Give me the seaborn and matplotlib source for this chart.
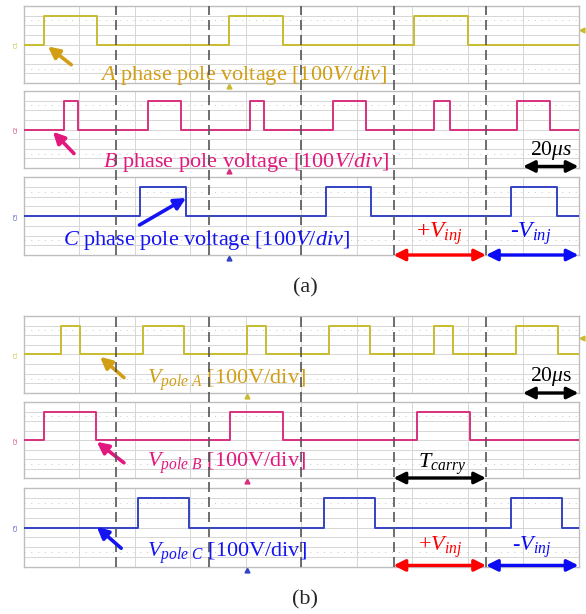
import numpy as np
import pandas as pd
import seaborn as sns
import matplotlib.pyplot as plt

sns.set_theme(style='white')
plt.rcParams['font.family'] = ['Liberation Serif', 'DejaVu Serif']
plt.rcParams['mathtext.fontset'] = 'custom'
plt.rcParams['mathtext.rm'] = 'Liberation Serif'
plt.rcParams['mathtext.it'] = 'Liberation Serif:italic'

# data: time in scope divisions (20us/div, 10 div on screen), rise/fall edges
carrier_period = 5 / 3      # 33.3us
pulse_high = 3.0            # divisions above ground

a_phase_a = [0.37, 1.33, 3.71, 4.67, 7.04, 8.01]
a_phase_b = [0.73, 0.99, 2.24, 2.83, 4.08, 4.33, 5.57, 6.17, 7.40, 7.69, 8.90, 9.49]
a_phase_c = [2.10, 2.93, 5.45, 6.27, 8.78, 9.61]
b_phase_a = [0.67, 1.01, 2.15, 2.90, 4.02, 4.37, 5.50, 6.25, 7.40, 7.73, 8.87, 9.63]
b_phase_b = [0.37, 1.31, 3.72, 4.68, 7.09, 8.04]
b_phase_c = [2.06, 2.99, 5.42, 6.34, 8.79, 9.71]

trigger_a = 3.70
trigger_b = 4.02
trig_level_a = 1.5
trig_level_b = 1.7

channel_names = ['C1', 'C2', 'C3']
trace_colors = ['#C8BC2E', '#D8307E', '#3442C4']
text_colors = ['#D29E14', '#E2187E', '#1414F2']

labels_a = [r'$A$ phase pole voltage [100$V/div$]',
            r'$B$ phase pole voltage [100$V/div$]',
            r'$C$ phase pole voltage [100$V/div$]']
labels_b = [r'$V_{pole\ A}$ [100V/div]',
            r'$V_{pole\ B}$ [100V/div]',
            r'$V_{pole\ C}$ [100V/div]']


def step_frame(edges):
    t = [0.0] + list(edges) + [10.0]
    v = [0.0] + [pulse_high, 0.0] * (len(edges) // 2) + [0.0]
    return pd.DataFrame({'t': t, 'v': v})


W, H = 586, 614
fig = plt.figure(figsize=(W / 100, H / 100), dpi=100)


def px_axes(x0, y0, x1, y1):
    return fig.add_axes([x0 / W, 1 - y1 / H, (x1 - x0) / W, (y1 - y0) / H])


def scope_panel(ax, edges, k, trig, trig_level, show_level):
    ax.set_facecolor('white')
    for xv in range(1, 10):
        ax.axvline(xv, color='#D6D6D6', lw=0.7, zorder=0)
    for yv in range(-3, 4):
        ax.axhline(yv, color='#D6D6D6', lw=0.7, zorder=0)
    for yv in [-2.5, 2.5]:
        ax.axhline(yv, color='#C8C8C8', lw=0.7, ls=(0, (1, 6)), zorder=0)
    sns.lineplot(data=step_frame(edges), x='t', y='v', ax=ax, color=trace_colors[k],
                 lw=1.4, drawstyle='steps-post', sort=False, estimator=None,
                 legend=False, zorder=3)
    ax.set_xlim(0, 10)
    ax.set_ylim(-4, 4)
    ax.set_xticks([])
    ax.set_yticks([])
    ax.set_xlabel('')
    ax.set_ylabel('')
    for s in ax.spines.values():
        s.set_color('#BEBEBE')
        s.set_linewidth(1.0)
    ax.text(-0.13, 0, channel_names[k], color=trace_colors[k], fontsize=4,
            rotation=90, ha='center', va='center', family='DejaVu Sans')
    ax.plot([trig], [-4.35], marker='^', ms=3.5, color=trace_colors[k], clip_on=False)
    if show_level:
        ax.plot([10.07], [trig_level], marker='<', ms=3.5, color=trace_colors[k], clip_on=False)


def dbl_arrow(ax, x0, x1, y, color):
    ax.annotate('', xy=(x0, y), xytext=(x1, y), xycoords=('data', 'axes fraction'),
                textcoords=('data', 'axes fraction'), annotation_clip=False,
                arrowprops=dict(arrowstyle='<|-|>', color=color, lw=2.4,
                                mutation_scale=17, shrinkA=0, shrinkB=0), zorder=6)


def pointer(ax, tip, tail, color):
    ax.annotate('', xy=tip, xytext=tail, annotation_clip=False,
                arrowprops=dict(arrowstyle='-|>', color=color, lw=2.6,
                                mutation_scale=17, shrinkA=0, shrinkB=0), zorder=6)


dash = (0, (6, 3))
fs_label = 16

# ---------------- (a) ----------------
rows_a = [(6, 83), (91, 168), (177, 255)]
axes_a = [px_axes(23.5, y0, 578.5, y1) for y0, y1 in rows_a]
for k, (ax, e) in enumerate(zip(axes_a, [a_phase_a, a_phase_b, a_phase_c])):
    scope_panel(ax, e, k, trigger_a, trig_level_a, k == 0)

span_a = (rows_a[2][1] - rows_a[0][0]) / (rows_a[2][1] - rows_a[2][0])
for n in range(1, 6):
    axes_a[2].axvline(n * carrier_period, ymin=0, ymax=span_a, color='#555555',
                      lw=1.2, ls=dash, clip_on=False, zorder=5)

axes_a[0].text(0.138, 0.1, labels_a[0], transform=axes_a[0].transAxes,
               color=text_colors[0], fontsize=fs_label, va='center', ha='left', zorder=7)
axes_a[1].text(0.143, 0.07, labels_a[1], transform=axes_a[1].transAxes,
               color=text_colors[1], fontsize=fs_label, va='center', ha='left', zorder=7)
axes_a[2].text(0.071, 0.18, labels_a[2], transform=axes_a[2].transAxes,
               color=text_colors[2], fontsize=fs_label, va='center', ha='left', zorder=7)

pointer(axes_a[0], (0.44, -0.2), (0.86, -2.1), text_colors[0])
pointer(axes_a[1], (0.53, -0.23), (0.91, -2.5), text_colors[1])
pointer(axes_a[2], (2.93, 1.85), (2.09, -0.92), text_colors[2])

dbl_arrow(axes_a[1], 9.0, 10.0, 0.02, 'black')
axes_a[1].text(9.5, 0.23, r'20$\mu s$', transform=axes_a[1].get_xaxis_transform(),
               fontsize=15.5, ha='center', va='center', color='black', zorder=7)

dbl_arrow(axes_a[2], 4 * carrier_period, 5 * carrier_period, 0.0, '#FF0000')
dbl_arrow(axes_a[2], 5 * carrier_period, 10.0, 0.0, '#0A0AF5')
axes_a[2].text(7.5, 0.27, r'+$V_{inj}$', transform=axes_a[2].get_xaxis_transform(),
               fontsize=17, ha='center', va='center', color='#FF0000', zorder=7)
axes_a[2].text(9.13, 0.27, r'-$V_{inj}$', transform=axes_a[2].get_xaxis_transform(),
               fontsize=17, ha='center', va='center', color='#0A0AF5', zorder=7)

fig.text(305 / W, 1 - 288 / H, '(a)', fontsize=16, ha='center', va='center')

# ---------------- (b) ----------------
rows_b = [(316, 393), (402, 478), (488, 567)]
axes_b = [px_axes(23.5, y0, 578.5, y1) for y0, y1 in rows_b]
for k, (ax, e) in enumerate(zip(axes_b, [b_phase_a, b_phase_b, b_phase_c])):
    scope_panel(ax, e, k, trigger_b, trig_level_b, k == 0)

span_b = (rows_b[2][1] - rows_b[0][0]) / (rows_b[2][1] - rows_b[2][0])
for n in range(1, 6):
    axes_b[2].axvline(n * carrier_period, ymin=0, ymax=span_b, color='#555555',
                      lw=1.2, ls=dash, clip_on=False, zorder=5)

label_y_b = [0.17, 0.2, 0.17]
for k, ax in enumerate(axes_b):
    ax.text(0.2225, label_y_b[k], labels_b[k], transform=ax.transAxes,
            color=text_colors[k], fontsize=fs_label, va='center', ha='left', zorder=7)

pointer(axes_b[0], (1.38, -0.24), (1.81, -2.4), text_colors[0])
pointer(axes_b[1], (1.32, -0.19), (1.81, -2.4), text_colors[1])
pointer(axes_b[2], (1.32, 0.07), (1.76, -2.1), text_colors[2])

dbl_arrow(axes_b[0], 9.0, 10.0, 0.0, 'black')
axes_b[0].text(9.5, 0.21, r'20$\mu$s', transform=axes_b[0].get_xaxis_transform(),
               fontsize=15.5, ha='center', va='center', color='black', zorder=7)

dbl_arrow(axes_b[1], 4 * carrier_period, 5 * carrier_period, 0.0, 'black')
axes_b[1].text(7.54, 0.18, r'$T_{carry}$', transform=axes_b[1].get_xaxis_transform(),
               fontsize=16, ha='center', va='center', color='black', zorder=7)

dbl_arrow(axes_b[2], 4 * carrier_period, 5 * carrier_period, 0.02, '#FF0000')
dbl_arrow(axes_b[2], 5 * carrier_period, 10.0, 0.02, '#0A0AF5')
axes_b[2].text(7.5, 0.25, r'+$V_{inj}$', transform=axes_b[2].get_xaxis_transform(),
               fontsize=16, ha='center', va='center', color='#FF0000', zorder=7)
axes_b[2].text(9.16, 0.25, r'-$V_{inj}$', transform=axes_b[2].get_xaxis_transform(),
               fontsize=16, ha='center', va='center', color='#0A0AF5', zorder=7)

fig.text(305 / W, 1 - 600 / H, '(b)', fontsize=16, ha='center', va='center')

fig.savefig('out.png', dpi=100)
